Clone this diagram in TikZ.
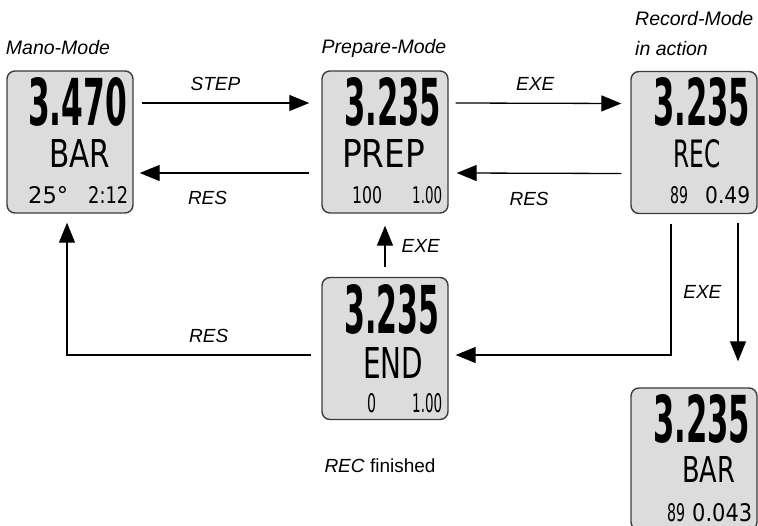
\documentclass[tikz,border=0pt]{standalone}
\usepackage{fontspec}
\setmainfont{Liberation Sans}
\newfontfamily\lcdfont{DejaVu Sans}
\usepackage{graphicx}
\usepackage{tikz}
\usetikzlibrary{arrows.meta,positioning}
\definecolor{lcdgray}{HTML}{DCDCDC}
\definecolor{lcdedge}{HTML}{3C3C3C}
\tikzset{
  lcdbox/.style={draw=lcdedge,fill=lcdgray,line width=1.4pt,rounded corners=8pt,minimum width=126pt,minimum height=142pt,inner sep=0pt},
  lcdtxt/.style={anchor=north west,inner sep=0pt,font=\lcdfont},
  lcdbig/.style={lcdtxt,font=\lcdfont\bfseries},
  modelbl/.style={font=\fontsize{19.5}{30}\selectfont\itshape,inner sep=0pt},
  keylbl/.style={font=\fontsize{19}{22}\selectfont\itshape,inner sep=0pt},
  captlbl/.style={font=\fontsize{19}{22}\selectfont,inner sep=0pt},
  flow/.style={-{Triangle[length=20pt,width=16pt]},line width=1.3pt,black},
}

\begin{document}
\begin{tikzpicture}[x=1pt,y=-1pt]
  \useasboundingbox (0,0) rectangle (758,526);
  % displays
  \node[lcdbox] (mano) at (70,142) {};
  \node[lcdbox] (prep) at (385,142) {};
  \node[lcdbox] (rec) at (694,142.5) {};
  \node[lcdbox] (fin) at (385,348.5) {};
  \node[lcdbox] (bar) at (694,459) {};
  % mano-mode display
  \node[lcdbig] (manoval) at (28,77) {\resizebox{99pt}{48pt}{3.470}};
  \node[lcdtxt] (manounit) at (49,139) {\resizebox{61pt}{28pt}{BAR}};
  \node[lcdtxt] (manotemp) at (28,186) {\resizebox{40pt}{17pt}{25°}};
  \node[lcdtxt] (manotime) at (88,186) {\resizebox{40pt}{17pt}{2:12}};
  % prepare-mode display
  \node[lcdbig] (prepval) at (344,77) {\resizebox{97pt}{48pt}{3.235}};
  \node[lcdtxt] (prepunit) at (342,139) {\resizebox{83pt}{28pt}{PREP}};
  \node[lcdtxt] (prepcnt) at (352,186) {\resizebox{30pt}{17pt}{100}};
  \node[lcdtxt] (preptime) at (412,186) {\resizebox{30pt}{17pt}{1.00}};
  % record-mode display
  \node[lcdbig] (recval) at (653,77) {\resizebox{97pt}{48pt}{3.235}};
  \node[lcdtxt] (recunit) at (673,139) {\resizebox{47pt}{28pt}{REC}};
  \node[lcdtxt] (reccnt) at (670,186) {\resizebox{18pt}{17pt}{89}};
  \node[lcdtxt] (rectime) at (705,186) {\resizebox{45pt}{17pt}{0.49}};
  % end display
  \node[lcdbig] (finval) at (344,284) {\resizebox{95pt}{49pt}{3.235}};
  \node[lcdtxt] (finunit) at (363,347) {\resizebox{60pt}{31pt}{END}};
  \node[lcdtxt] (fincnt) at (367,393) {\resizebox{9pt}{19pt}{0}};
  \node[lcdtxt] (fintime) at (412,393) {\resizebox{30pt}{19pt}{1.00}};
  % result display
  \node[lcdbig] (barval) at (653,394) {\resizebox{97pt}{48pt}{3.235}};
  \node[lcdtxt] (barunit) at (682,456) {\resizebox{53pt}{26pt}{BAR}};
  \node[lcdtxt] (barcnt) at (667,503) {\resizebox{18pt}{18pt}{89}};
  \node[lcdtxt] (barval2) at (692,503) {\resizebox{60pt}{18pt}{0.043}};
  % titles
  \node[modelbl] (manottl) at (58,48) {Mano-Mode};
  \node[modelbl] (prepttl) at (384,48) {Prepare-Mode};
  \node[modelbl,anchor=north west,align=left] (recttl) at (635,11) {Record-Mode\\in action};
  \node[captlbl] (fincapt) at (380,466) {\textit{REC} finished};
  % transitions
  \draw[flow] ([xshift=8pt,yshift=39pt]mano.east) -- ([xshift=-12pt,yshift=39pt]prep.west)
    node[keylbl,pos=.44,above=12pt] (steplbl) {STEP};
  \draw[flow] ([xshift=-12pt,yshift=-31pt]prep.west) -- ([xshift=6pt,yshift=-31pt]mano.east)
    node[keylbl,pos=.6,below=18pt] (reslbl1) {RES};
  \draw[flow] ([xshift=7pt,yshift=39pt]prep.east) -- ([xshift=-9pt,yshift=39pt]rec.west)
    node[keylbl,pos=.48,above=12pt] (exelbl1) {EXE};
  \draw[flow] ([xshift=-9pt,yshift=-31pt]rec.west) -- ([xshift=8pt,yshift=-31pt]prep.east)
    node[keylbl,pos=.56,below=18pt] (reslbl2) {RES};
  \draw[flow] ([yshift=10pt]fin.north) -- ([yshift=-12pt]prep.south)
    node[keylbl,midway,right=16pt] (exelbl2) {EXE};
  \draw[flow] ([xshift=-23pt,yshift=-10pt]rec.south) |- ([xshift=7pt,yshift=-6.5pt]fin.east);
  \draw[flow] ([xshift=44pt,yshift=-9pt]rec.south) -- ([xshift=44pt,yshift=26pt]bar.north)
    node[keylbl,midway,left=16pt] (exelbl3) {EXE};
  \draw[flow] ([xshift=-10pt,yshift=-6.5pt]fin.west) -| ([xshift=-3pt,yshift=-9pt]mano.south)
    node[keylbl,pos=.21,above=12pt] (reslbl3) {RES};
\end{tikzpicture}
\end{document}
